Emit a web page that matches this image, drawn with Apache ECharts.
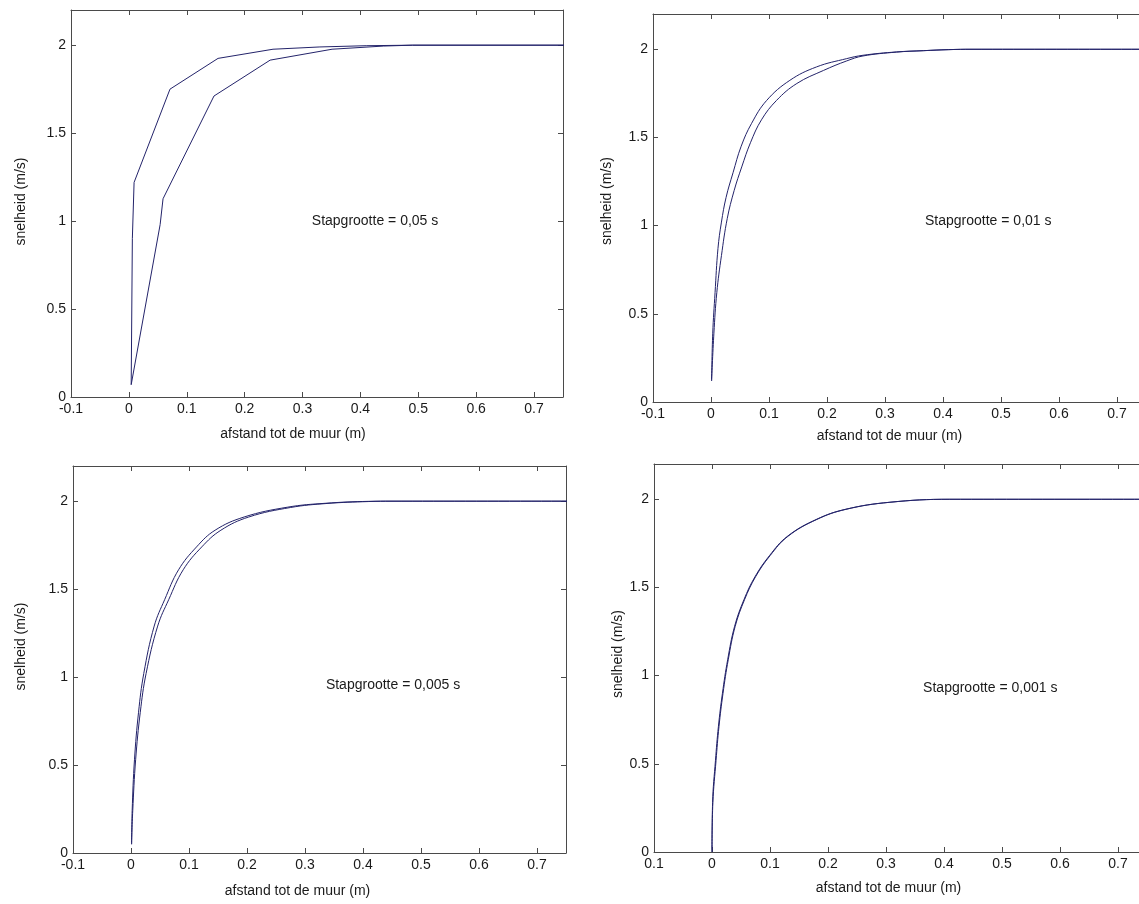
<!DOCTYPE html>
<html>
<head>
<meta charset="utf-8">
<script src="https://cdn.jsdelivr.net/npm/echarts@6/dist/echarts.min.js"></script>
<style>
html,body{margin:0;padding:0;background:#fff;}
#c{width:1139px;height:904px;}
</style>
</head>
<body>
<div id="c"></div>
<script>
// ---- tick labels ----
const xTickValues = [-0.1, 0, 0.1, 0.2, 0.3, 0.4, 0.5, 0.6, 0.7];
const xTickLabels = ['-0.1', '0', '0.1', '0.2', '0.3', '0.4', '0.5', '0.6', '0.7'];
const xTickLabelsP4 = ['0.1', '0', '0.1', '0.2', '0.3', '0.4', '0.5', '0.6', '0.7'];
const yTickValues = [0, 0.5, 1, 1.5, 2];
const yTickLabels = ['0', '0.5', '1', '1.5', '2'];

// ---- texts ----
const xTitle = 'afstand tot de muur (m)';
const yTitle = 'snelheid (m/s)';
const stepLabels = ['Stapgrootte = 0,05 s', 'Stapgrootte = 0,01 s', 'Stapgrootte = 0,005 s', 'Stapgrootte = 0,001 s'];
const stepLabelPos = [[0.316, 1.0], [0.369, 1.025], [0.336, 0.955], [0.364, 0.93]];

// ---- data: [distance, speed] ----
const p1a = [[0.004,0.07],[0.006,0.9],[0.009,1.22],[0.071,1.75],[0.154,1.925],[0.249,1.977],[0.33,1.99],[0.41,1.997],[0.49,2.0],[0.9,2.0]];
const p1b = [[0.004,0.07],[0.054,0.98],[0.059,1.127],[0.147,1.711],[0.244,1.915],[0.351,1.977],[0.44,1.995],[0.49,2.0],[0.9,2.0]];

const p2a = [[0.001,0.12],[0.003,0.39],[0.007,0.62],[0.012,0.87],[0.018,1.02],[0.026,1.16],[0.038,1.30],[0.052,1.45],[0.070,1.58],[0.096,1.71],[0.136,1.824],[0.182,1.90],[0.234,1.947],[0.262,1.966],[0.32,1.985],[0.366,1.992],[0.41,1.998],[0.45,2.0],[0.9,2.0]];
const p2b = [[0.001,0.12],[0.005,0.39],[0.010,0.62],[0.018,0.83],[0.028,1.04],[0.040,1.20],[0.053,1.333],[0.068,1.47],[0.087,1.60],[0.113,1.71],[0.148,1.806],[0.194,1.88],[0.234,1.934],[0.262,1.962],[0.32,1.984],[0.366,1.992],[0.41,1.998],[0.45,2.0],[0.9,2.0]];

const p3a = [[0.001,0.05],[0.002,0.24],[0.006,0.53],[0.013,0.80],[0.022,1.02],[0.040,1.29],[0.058,1.44],[0.082,1.61],[0.113,1.74],[0.145,1.835],[0.195,1.91],[0.27,1.966],[0.335,1.988],[0.41,1.999],[0.45,2.0],[0.9,2.0]];
const p3b = [[0.001,0.05],[0.003,0.24],[0.008,0.53],[0.016,0.80],[0.026,1.02],[0.046,1.29],[0.065,1.44],[0.090,1.61],[0.122,1.74],[0.155,1.835],[0.203,1.91],[0.275,1.964],[0.338,1.987],[0.41,1.998],[0.45,2.0],[0.9,2.0]];

const p4a = [[0,0],[0.001,0.28],[0.006,0.52],[0.011,0.71],[0.018,0.90],[0.027,1.09],[0.039,1.28],[0.055,1.43],[0.074,1.56],[0.099,1.68],[0.130,1.79],[0.180,1.886],[0.230,1.943],[0.306,1.983],[0.41,2.0],[0.9,2.0]];
const p4b = [[0,0],[0.0015,0.28],[0.007,0.52],[0.012,0.71],[0.019,0.90],[0.028,1.09],[0.040,1.28],[0.056,1.43],[0.075,1.56],[0.100,1.68],[0.131,1.79],[0.181,1.886],[0.231,1.943],[0.307,1.983],[0.41,2.0],[0.9,2.0]];

const panels = [
  { a: p1a, b: p1b, smooth: false, xLabels: xTickLabels },
  { a: p2a, b: p2b, smooth: true,  xLabels: xTickLabels },
  { a: p3a, b: p3b, smooth: true,  xLabels: xTickLabels },
  { a: p4a, b: p4b, smooth: true,  xLabels: xTickLabelsP4 }
];

// ---- layout ----
const grids = [
  { left: 71,  top: 10,  width: 492, height: 387 },
  { left: 653, top: 14,  width: 493, height: 388 },
  { left: 73,  top: 466, width: 493, height: 387 },
  { left: 654, top: 464, width: 493, height: 388 }
];
const xNameGap = [30, 27, 31, 29];
const xNameShift = [24, 10, 22, 12];
const yNameGap = [43, 39, 45, 26];
const yNameShift = [2, 7, 13, 4];

const FONT = '"Liberation Sans", Arial, Helvetica, sans-serif';
const LINE = '#4a4a4a';
const TXT = '#1a1a1a';
const CURVE = '#23236a';

function labelFor(values, labels) {
  return function (v) {
    for (let i = 0; i < values.length; i++) {
      if (Math.abs(values[i] - v) < 1e-6) return labels[i];
    }
    return '';
  };
}

const xAxes = [], yAxes = [], series = [];
grids.forEach((g, i) => {
  const common = { axisLine: { show: true, onZero: false, lineStyle: { color: LINE, width: 1 } },
                   axisTick: { show: true, inside: true, length: 5, lineStyle: { color: LINE } },
                   splitLine: { show: false } };
  xAxes.push(Object.assign({
    type: 'value', gridIndex: i, position: 'bottom', min: -0.1, max: 0.75, interval: 0.1,
    name: xTitle, nameLocation: 'middle', nameGap: xNameGap[i],
    nameTextStyle: { fontFamily: FONT, fontSize: 14, color: TXT, padding: [0, 2 * xNameShift[i], 0, 0] },
    axisLabel: { show: true, margin: 5, fontFamily: FONT, fontSize: 14, color: TXT,
                 formatter: labelFor(xTickValues, panels[i].xLabels) }
  }, common));
  xAxes.push(Object.assign({
    type: 'value', gridIndex: i, position: 'top', min: -0.1, max: 0.75, interval: 0.1,
    axisLabel: { show: false }
  }, common));
  yAxes.push(Object.assign({
    type: 'value', gridIndex: i, position: 'left', min: 0, max: 2.2, interval: 0.5,
    name: yTitle, nameLocation: 'middle', nameGap: yNameGap[i], nameRotate: 90,
    nameTextStyle: { fontFamily: FONT, fontSize: 14, color: TXT, padding: [0, 0, 0, 2 * yNameShift[i]] },
    axisLabel: { show: true, margin: 5, fontFamily: FONT, fontSize: 14, color: TXT,
                 formatter: labelFor(yTickValues, yTickLabels) }
  }, common));
  yAxes.push(Object.assign({
    type: 'value', gridIndex: i, position: 'right', min: 0, max: 2.2, interval: 0.5,
    axisLabel: { show: false }
  }, common));
  [panels[i].a, panels[i].b].forEach((d) => {
    series.push({
      type: 'line', xAxisIndex: 2 * i, yAxisIndex: 2 * i, data: d,
      showSymbol: false, symbol: 'none', smooth: panels[i].smooth ? 0.4 : false,
      clip: true, silent: true,
      lineStyle: { color: CURVE, width: 1 }, animation: false
    });
  });
});

const chart = echarts.init(document.getElementById('c'), null, { renderer: 'canvas' });
chart.setOption({
  backgroundColor: '#ffffff',
  animation: false,
  grid: grids.map(g => Object.assign({ containLabel: false, outerBoundsMode: 'none' }, g)),
  xAxis: xAxes,
  yAxis: yAxes,
  series: series
});

// annotations placed via the chart's own coordinate conversion
const gfx = stepLabels.map((t, i) => {
  const p = chart.convertToPixel({ gridIndex: i }, stepLabelPos[i]);
  return { type: 'text', x: p[0], y: p[1], silent: true,
           style: { text: t, font: '14px ' + FONT, fill: TXT, textAlign: 'left', textVerticalAlign: 'middle' } };
});
chart.setOption({ graphic: gfx });
</script>
</body>
</html>
